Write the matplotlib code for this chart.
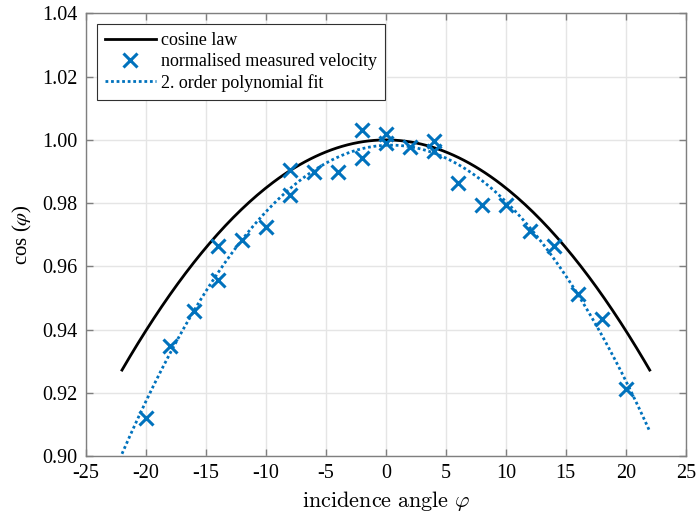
import numpy as np
import matplotlib
matplotlib.use('Agg')
import matplotlib.pyplot as plt

blue = '#0072BD'
black = '#000000'
grid_grey = '#e5e5e5'
axis_grey = '#7f7f7f'

# measured points
angles = [-20, -18, -16, -14, -14, -12, -10, -8, -8, -6, -4, -2, -2,
          0, 0, 2, 4, 4, 6, 8, 10, 12, 14, 16, 18, 20]
velocity = [0.9121, 0.9347, 0.9458, 0.9665, 0.9558, 0.9682, 0.9726,
            0.9905, 0.9826, 0.9900, 0.9900, 1.0032, 0.9944,
            1.0019, 0.9990, 0.9979, 0.9997, 0.9965, 0.9863, 0.9793,
            0.9795, 0.9713, 0.9665, 0.9514, 0.9432, 0.9211]

xticks = [-25, -20, -15, -10, -5, 0, 5, 10, 15, 20, 25]
yticks = [0.90, 0.92, 0.94, 0.96, 0.98, 1.00, 1.02, 1.04]

plt.rcParams['font.family'] = ['Liberation Serif', 'DejaVu Serif']
plt.rcParams['mathtext.fontset'] = 'stix'

fig = plt.figure(figsize=(6.97, 5.17), dpi=100)
ax = fig.add_axes([0.1234, 0.118, 0.8604, 0.8559])

phi = np.linspace(-22, 22, 200)
ax.plot(phi, np.cos(np.deg2rad(phi)), color=black, lw=2, label='cosine law')
ax.plot(angles, velocity, linestyle='none', marker='x', color=blue,
        markersize=10, markeredgewidth=2.2,
        label='normalised measured velocity')
coef = np.polyfit(angles, velocity, 2)
ax.plot(phi, np.polyval(coef, phi), color=blue, lw=2, linestyle=(0, (1, 1)),
        label='2. order polynomial fit')

ax.set_xlim(-25, 25)
ax.set_ylim(0.90, 1.04)
ax.set_xticks(xticks)
ax.set_yticks(yticks)
ax.set_xticklabels([str(t) for t in xticks])
ax.set_yticklabels(['%.2f' % t for t in yticks])
ax.tick_params(direction='in', length=5, width=1, color=axis_grey,
               labelsize=14.5, top=True, right=True)
ax.tick_params(axis='x', pad=6)
ax.tick_params(axis='y', pad=6)
ax.grid(True, color=grid_grey, lw=1)
ax.set_axisbelow(True)
for s in ax.spines.values():
    s.set_color(axis_grey)
    s.set_linewidth(1)

ax.set_xlabel(r'$\mathrm{incidence\ angle}\ \varphi$', fontsize=16,
              math_fontfamily='cm', labelpad=4)
ax.set_ylabel(r'cos ($\varphi$)', fontsize=15, labelpad=6)

leg = ax.legend(loc='upper left', fontsize=13, fancybox=False, framealpha=1,
                edgecolor='#303030', borderaxespad=0.6, handlelength=2.8,
                handletextpad=0.3, borderpad=0.45, labelspacing=0.2)
leg.get_frame().set_linewidth(0.8)

fig.savefig('out.png', dpi=100)
